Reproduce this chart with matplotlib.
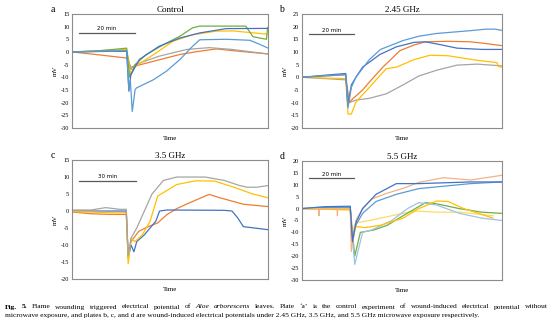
import numpy as np
import matplotlib
matplotlib.use("Agg")
import matplotlib.pyplot as plt

plt.rcParams['font.family'] = ['Liberation Serif', 'DejaVu Serif']

BLUE = '#4472C4'
ORANGE = '#ED7D31'
GRAY = '#A5A5A5'
GOLD = '#FFC000'
LBLUE = '#5B9BD5'
GREEN = '#70AD47'
SALMON = '#F4B183'
PBLUE = '#9DC3E6'
PYELLOW = '#FFD966'

# ---- panel a: control (x in minutes) ----
a_lblue_t = [0, 10, 19.5, 20.3, 20.8, 21.5, 22.5, 23, 29, 33.7, 38.5, 43, 45.6, 55, 63.5, 67, 70]
a_lblue_v = [0, 0.3, 0.5, -15, -11, -23.5, -15, -14.2, -11, -7.6, -3, 2.2, 4.8, 5, 4.6, 3, 1.5]
a_blue_t = [0, 10, 19.5, 20.3, 21, 24, 31, 38.5, 45.6, 55, 70]
a_blue_v = [0, 0.2, 0.3, -15.5, -9, -3, 2.2, 5.5, 7.5, 9.2, 9.3]
a_green_t = [0, 10, 19.5, 20.6, 22.5, 26.5, 33.7, 38.5, 43, 45.6, 62, 64.6, 69.4, 69.8, 70]
a_green_v = [0, 0.5, 1.5, -10, -5, -1, 3.5, 6.2, 9.5, 10.2, 10.2, 6, 5, 9.5, 9.8]
a_gold_t = [0, 10, 19.5, 21, 22.5, 30, 36, 43, 51.5, 57.5, 64, 70]
a_gold_v = [0, 0.5, 1, -9, -5.7, -0.4, 4.2, 6.8, 8.2, 8.3, 7.6, 7]
a_gray_t = [0, 10, 19.5, 21, 22.5, 31, 41, 49, 57, 70]
a_gray_v = [0, 0.2, 0.3, -7, -5, -1.7, 1, 1.7, 1, -0.8]
a_orange_t = [0, 10, 19.5, 21, 29, 38.5, 45, 51.5, 57.5, 70]
a_orange_v = [0, -1.2, -2.4, -6, -3.7, -1, 0.2, 1.2, 0.5, -0.8]

# ---- panel b: 2.45 GHz ----
b_blue_t = [0, 10, 19.5, 20.4, 22, 24, 27, 34.7, 42, 50, 55, 62, 69, 80, 89]
b_blue_v = [0, 0.8, 1.5, -11, -3, 0, 4, 9, 12, 13.8, 14, 12.8, 11.5, 11, 11]
b_lblue_t = [0, 10, 19.5, 20.5, 22, 24, 30, 35, 45, 52, 60, 75, 82, 86, 89]
b_lblue_v = [0, 0.6, 1, -12, -4, 0, 7, 11, 14.5, 16.2, 17.3, 18.4, 19, 19, 18.5]
b_orange_t = [0, 10, 19.5, 21, 22, 27, 30, 36, 43.6, 50, 55, 65, 75, 82, 89]
b_orange_v = [0, 0.5, 1, -10, -9, -5, -1.9, 4, 10.5, 12.8, 14, 14.2, 14, 13.3, 12.5]
b_gold_t = [0, 10, 19.5, 20.5, 22, 24, 29, 34, 37.6, 42, 50, 57, 65, 78, 86.8, 87.5, 89]
b_gold_v = [0, -0.3, -0.5, -14.5, -14.5, -9.8, -5, 0, 3.4, 4, 7, 8.7, 8.5, 6.7, 5.8, 4.2, 4]
b_gray_t = [0, 10, 19.5, 21, 24, 30, 37.6, 45, 52, 60, 69, 78, 89]
b_gray_v = [0, -0.5, -1, -10, -9, -8.3, -6.5, -3, 0.5, 2.8, 4.8, 5.2, 4.5]

# ---- panel c: 3.5 GHz ----
c_gray_t = [0, 10, 17.7, 25, 28.5, 29.5, 31, 34, 38, 42, 48, 55, 70, 80, 88, 92, 97, 103]
c_gray_v = [0.3, 0.3, 1, 0.5, 0.5, -13, -8, -5, 0, 5, 9, 10, 10, 9, 7.5, 7, 7, 7.5]
c_gold_t = [0, 10, 20, 28.5, 29.5, 31, 33, 37, 41, 45, 55, 65, 75, 85, 95, 103]
c_gold_v = [-0.2, -0.3, -0.5, -0.5, -15.5, -8, -9, -7, -3, 4.4, 7.8, 8.9, 8.8, 7, 5, 3.9]
c_orange_t = [0, 10, 20, 28.5, 29.5, 31, 35, 40, 45, 50, 55, 60, 72, 77, 90, 103]
c_orange_v = [-0.3, -0.8, -1, -1, -13, -9, -6, -4.6, -3.5, -1, 0.7, 2, 4.9, 4, 2, 1.3]
c_blue_t = [0, 10, 20, 28.5, 29.5, 31, 32.5, 34, 38, 44, 46, 50, 80, 84, 87, 90, 103]
c_blue_v = [0, 0, 0, 0, -14, -10, -12, -9, -7, -3, 0, 0.3, 0.2, 0, -2, -4.6, -5.5]

# ---- panel d: 5.5 GHz ----
d_salmon_t = [0, 7.5, 7.6, 7.7, 15.7, 15.8, 15.9, 21.5, 22, 24, 27, 31, 38, 45, 52, 63, 75, 89]
d_salmon_v = [0, 0, -3, 0, 0, -3, 0, 0, -18, -5, 0, 4, 6.5, 8.5, 11, 13, 12, 14]
d_blue_t = [0, 10, 21.5, 22.5, 24, 27, 33, 42, 52, 75, 89]
d_blue_v = [0, 0.8, 1, -14, -6, 0, 6, 10.5, 10.5, 11.2, 11.2]
d_mblue_t = [0, 10, 21.5, 22.3, 24, 27, 33, 42, 52, 75, 89]
d_mblue_v = [0, 0.5, 0.5, -12, -7, -2, 3, 6, 8.4, 10.5, 11.2]
d_green_t = [0, 10, 21.5, 23.5, 26, 32, 38, 45, 55, 60, 70, 80, 89]
d_green_v = [0, 0, 0, -20, -10, -9, -7, -3, 2.5, 2, 0, -1.5, -2]
d_gold_t = [0, 10, 21.5, 22.5, 24, 28, 35, 45, 52, 60, 65, 72, 85]
d_gold_v = [0, -0.3, -0.5, -14, -7.5, -8, -7, -4, 0, 3.2, 3, 0, -4]
d_pyellow_t = [0, 10, 21.5, 22, 24, 30, 40, 50, 60, 70, 85]
d_pyellow_v = [0, -0.3, -0.5, -10, -6, -5, -3, -1, -1.5, -1.5, -3]
d_pblue_t = [0, 10, 21.5, 23.5, 27, 31, 40, 47, 52, 60, 70, 80, 89]
d_pblue_v = [0, 0.5, 0.5, -23.5, -10, -9, -5, 0, 2.5, 1.5, -2, -4, -5]

fig = plt.figure(figsize=(5.54, 3.24), dpi=100)

panels = [
    dict(pos=[0.130, 0.605, 0.354, 0.352], xlim=(0, 70), ylim=(-30, 15), ticks=np.arange(-30, 16, 5),
         title='Control', letter='a', bar=(2.5, 22.5, 7.5), bartext='20 min',
         traces=[(a_orange_t, a_orange_v, ORANGE), (a_gray_t, a_gray_v, GRAY),
                 (a_gold_t, a_gold_v, GOLD), (a_green_t, a_green_v, GREEN),
                 (a_blue_t, a_blue_v, BLUE), (a_lblue_t, a_lblue_v, LBLUE)]),
    dict(pos=[0.545, 0.605, 0.361, 0.352], xlim=(0, 89), ylim=(-20, 25), ticks=np.arange(-20, 26, 5),
         title='2.45 GHz', letter='b', bar=(3.1, 23.1, 17), bartext='20 min',
         traces=[(b_gray_t, b_gray_v, GRAY), (b_gold_t, b_gold_v, GOLD),
                 (b_orange_t, b_orange_v, ORANGE), (b_blue_t, b_blue_v, BLUE),
                 (b_lblue_t, b_lblue_v, LBLUE)]),
    dict(pos=[0.130, 0.139, 0.354, 0.367], xlim=(0, 103), ylim=(-20, 15), ticks=np.arange(-20, 16, 5),
         title='3.5 GHz', letter='c', bar=(3.7, 33.7, 8.9), bartext='30 min',
         traces=[(c_orange_t, c_orange_v, ORANGE), (c_blue_t, c_blue_v, BLUE),
                 (c_gold_t, c_gold_v, GOLD), (c_gray_t, c_gray_v, GRAY)]),
    dict(pos=[0.545, 0.136, 0.361, 0.367], xlim=(0, 89), ylim=(-30, 20), ticks=np.arange(-30, 21, 5),
         title='5.5 GHz', letter='d', bar=(3.1, 23.1, 12.7), bartext='20 min',
         traces=[(d_pyellow_t, d_pyellow_v, PYELLOW), (d_green_t, d_green_v, GREEN),
                 (d_pblue_t, d_pblue_v, PBLUE), (d_gold_t, d_gold_v, GOLD),
                 (d_mblue_t, d_mblue_v, LBLUE), (d_salmon_t, d_salmon_v, SALMON),
                 (d_blue_t, d_blue_v, BLUE)]),
]

for p in panels:
    ax = fig.add_axes(p['pos'])
    for t, v, c in p['traces']:
        ax.plot(t, v, color=c, lw=0.9)
    ax.set_xlim(*p['xlim'])
    ax.set_ylim(*p['ylim'])
    ax.set_yticks(p['ticks'])
    ax.set_yticklabels([str(int(k)) for k in p['ticks']], fontsize=4.5)
    ax.set_xticks([])
    ax.tick_params(axis='y', length=0, pad=2)
    for s in ax.spines.values():
        s.set_color('#8c8c8c')
        s.set_linewidth(0.8)
    ax.set_title(p['title'], fontsize=6.5, pad=1.5)
    ax.set_xlabel('Time', fontsize=5, labelpad=6)
    ax.set_ylabel('mV', fontsize=5, labelpad=2)
    x0, x1, yb = p['bar']
    ax.plot([x0, x1], [yb, yb], color='#595959', lw=0.9)
    ax.text((x0 + x1) / 2, yb + 0.6, p['bartext'], fontsize=4, ha='center', va='bottom',
            family=['DejaVu Sans'])
    ax.text(-0.1, 1.0, p['letter'], transform=ax.transAxes, fontsize=7, ha='center', va='bottom')

# caption: first line justified word by word, second line flush left
cap_size = 5.4
words1 = [('Fig.', 'bold', 'normal'), ('5.', 'bold', 'normal'), ('Flame', 'normal', 'normal'),
          ('wounding', 'normal', 'normal'), ('triggered', 'normal', 'normal'),
          ('electrical', 'normal', 'normal'), ('potential', 'normal', 'normal'),
          ('of', 'normal', 'normal'), ('Aloe', 'normal', 'italic'), ('arborescens', 'normal', 'italic'),
          ('leaves.', 'normal', 'normal'), ('Plate', 'normal', 'normal'), ('‘a’', 'normal', 'normal'),
          ('is', 'normal', 'normal'), ('the', 'normal', 'normal'), ('control', 'normal', 'normal'),
          ('experiment', 'normal', 'normal'), ('of', 'normal', 'normal'),
          ('wound-induced', 'normal', 'normal'), ('electrical', 'normal', 'normal'),
          ('potential', 'normal', 'normal'), ('without', 'normal', 'normal')]
line2 = ("microwave exposure, and plates b, c, and d are wound-induced electrical potentials "
         "under 2.45 GHz, 3.5 GHz, and 5.5 GHz microwave exposure respectively.")

fig.canvas.draw()
renderer = fig.canvas.get_renderer()
W = 554.0
x_left, x_right = 5.0, 548.0
y1 = 1 - 307 / 324
items = []
total = 0.0
for w, wt, st in words1:
    t = fig.text(0, y1, w, fontsize=cap_size, fontweight=wt, fontstyle=st, ha='left', va='center')
    wpx = t.get_window_extent(renderer).width
    items.append((t, wpx))
    total += wpx
gap = (x_right - x_left - total) / (len(items) - 1)
x = x_left
for t, wpx in items:
    t.set_x(x / W)
    x += wpx + gap

fig.text(x_left / W, 1 - 316 / 324, line2, fontsize=cap_size, ha='left', va='center')

fig.savefig('out.png', dpi=100)
